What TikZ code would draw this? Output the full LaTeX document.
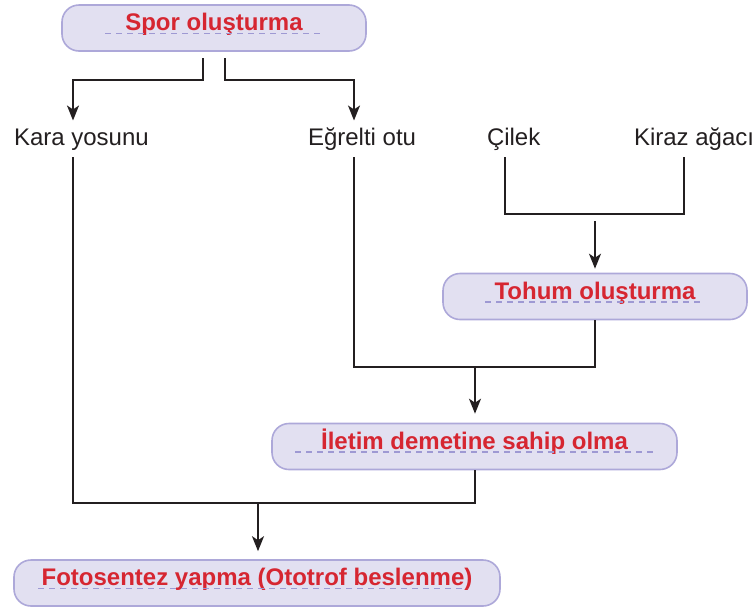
\documentclass[tikz,border=0pt]{standalone}
\usepackage{fontspec}
\setmainfont{Liberation Sans}
\usetikzlibrary{arrows.meta,calc}
\definecolor{boxfill}{HTML}{E2E0F1}
\definecolor{boxline}{HTML}{ADA8D9}
\definecolor{dashcol}{HTML}{9E99D3}
\definecolor{titlered}{HTML}{D62631}
\definecolor{ink}{HTML}{231F20}
\tikzset{
  box/.style={draw=boxline, fill=boxfill, line width=1.6pt, rounded corners=17pt,
    font=\fontsize{24}{28}\selectfont\bfseries, text=titlered,
    inner xsep=0pt, inner ysep=0pt, text height=25.5pt, text depth=20.5pt},
  plant/.style={font=\fontsize{24}{28}\selectfont, text=ink, inner sep=0pt,
    outer xsep=0pt, outer ysep=7pt, text height=17.5pt, text depth=5pt, anchor=base west},
  conn/.style={draw=ink, line width=1.8pt},
  arr/.style={conn, -{Stealth[length=15pt,width=12pt,inset=4pt]}},
  uline/.style={draw=dashcol, line width=1.3pt, dash pattern=on 6pt off 5pt},
}
\begin{document}
\begin{tikzpicture}[x=1pt,y=-1pt]
\useasboundingbox (0,0) rectangle (755,606);
% boxes
\node[box, minimum width=304pt] (spor) at (214,28) {Spor oluşturma};
\node[box, minimum width=304pt] (tohum) at (595,296.5) {Tohum oluşturma};
\node[box, minimum width=405pt] (iletim) at (474.5,446.5) {İletim demetine sahip olma};
\node[box, minimum width=486pt] (foto) at (257,583) {Fotosentez yapma (Ototrof beslenme)};
% underlines
\draw[uline] ($(spor.base)+(-109,3)$) -- ($(spor.base)+(108,3)$);
\draw[uline] ($(tohum.base)+(-110,3)$) -- ($(tohum.base)+(108,3)$);
\draw[uline] ($(iletim.base)+(-179.5,3)$) -- ($(iletim.base)+(178.5,3)$);
\draw[uline] ($(foto.base)+(-219,3)$) -- ($(foto.base)+(210,3)$);
% plants
\node[plant] (kara) at (14,145) {Kara yosunu};
\node[plant] (egr) at (308,145) {Eğrelti otu};
\node[plant] (cilek) at (487,145) {Çilek};
\node[plant] (kiraz) at (634,145) {Kiraz ağacı};
% helper coordinates
\coordinate (xk) at (73,0);
\coordinate (xe) at (354,0);
\coordinate (xc) at (505,0);
\coordinate (xki) at (684,0);
\coordinate (sl) at (203,58);
\coordinate (sr) at (225,58);
\coordinate (sy) at (0,80);
\coordinate (hy) at (0,214);
\coordinate (ta) at (595,221);
\coordinate (mj) at (475,367);
\coordinate (bj) at (258,503);
% connectors
\draw[arr] (sl) -- (sl |- sy) -| (kara.north -| xk);
\draw[arr] (sr) -- (sr |- sy) -| (egr.north -| xe);
\draw[conn] (cilek.south -| xc) -- (xc |- hy) -- (xki |- hy) -- (kiraz.south -| xki);
\draw[arr, shorten >=4pt] (ta) -- (ta |- tohum.north);
\draw[conn] (egr.south -| xe) |- (mj);
\draw[conn] (tohum.south) |- (mj);
\draw[arr, shorten >=9pt] (mj) -- (mj |- iletim.north);
\draw[conn] (kara.south -| xk) |- (bj);
\draw[conn] (iletim.south -| mj) |- (bj);
\draw[arr, shorten >=8pt] (bj) -- (bj |- foto.north);
\end{tikzpicture}
\end{document}
